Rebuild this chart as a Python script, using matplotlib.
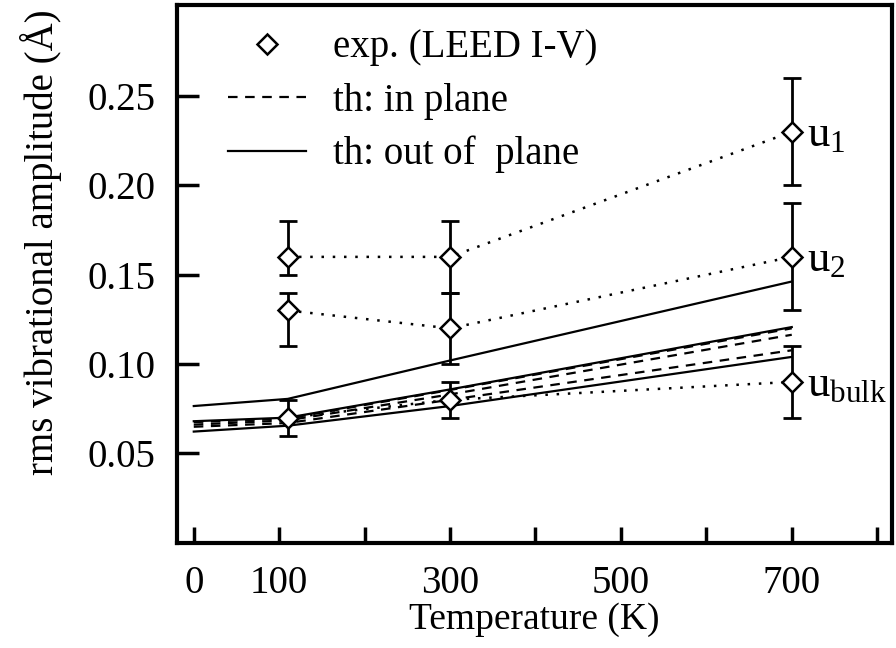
import matplotlib
matplotlib.use("Agg")
import matplotlib.pyplot as plt
from matplotlib.lines import Line2D

plt.rcParams['font.family'] = ['Liberation Serif', 'DejaVu Serif']
plt.rcParams['mathtext.fontset'] = 'custom'
plt.rcParams['mathtext.rm'] = 'Liberation Serif'
plt.rcParams['mathtext.it'] = 'Liberation Serif:italic'

# ---- data ----
T_exp = [110, 300, 700]
u1 = [0.16, 0.16, 0.23]
u1_lo = [0.01, 0.02, 0.03]
u1_hi = [0.02, 0.02, 0.03]
u2 = [0.13, 0.12, 0.16]
u2_lo = [0.02, 0.02, 0.03]
u2_hi = [0.01, 0.02, 0.03]
ub = [0.07, 0.08, 0.09]
ub_lo = [0.01, 0.01, 0.02]
ub_hi = [0.01, 0.01, 0.02]

T_th = [0, 110, 300, 700]
out_1 = [0.0765, 0.0805, 0.1020, 0.1462]
out_2 = [0.0680, 0.0700, 0.0858, 0.1207]
out_3 = [0.0622, 0.0655, 0.0765, 0.1040]
in_1 = [0.0675, 0.0695, 0.0855, 0.1200]
in_2 = [0.0661, 0.0685, 0.0830, 0.1164]
in_3 = [0.0649, 0.0670, 0.0800, 0.1077]

x_ticks = [0, 100, 200, 300, 400, 500, 600, 700, 800]
x_ticklabels = ['0', '100', '', '300', '', '500', '', '700', '']
y_ticks = [0.05, 0.10, 0.15, 0.20, 0.25]
y_ticklabels = ['0.05', '0.10', '0.15', '0.20', '0.25']
series_labels = [r'$\mathrm{u}_{1}$', r'$\mathrm{u}_{2}$', r'$\mathrm{u}_{\mathrm{bulk}}$']
legend_labels = ['exp. (LEED I-V)', 'th: in plane', 'th: out of  plane']

# ---- figure ----
fig = plt.figure(figsize=(8.96, 6.48), dpi=100)
ax = fig.add_axes([0.1972, 0.1625, 0.798, 0.8298])

FS = 28
dash = (0, (4.3, 3.4))
dot = (0, (1, 3.5))

for y in (out_1, out_2, out_3):
    ax.plot(T_th, y, color='black', lw=1.6, zorder=2)
for y in (in_1, in_2, in_3):
    ax.plot(T_th, y, color='black', lw=1.6, linestyle=dash, zorder=2)

for y, lo, hi in ((u1, u1_lo, u1_hi), (u2, u2_lo, u2_hi), (ub, ub_lo, ub_hi)):
    ax.plot(T_exp, y, color='black', lw=1.8, linestyle=dot, zorder=3)
    ax.errorbar(T_exp, y, yerr=[lo, hi], fmt='none', ecolor='black',
                elinewidth=2.0, capsize=6.4, capthick=2.0, zorder=4)
    ax.plot(T_exp, y, linestyle='none', marker='D', markersize=10,
            markerfacecolor='white', markeredgecolor='black',
            markeredgewidth=1.8, zorder=5)

for y, lab in zip((u1, u2, ub), series_labels):
    ax.text(T_exp[-1] + 18, y[-1] - 0.008, lab, fontsize=32,
            ha='left', va='baseline', zorder=6)

ax.set_xlim(-20, 817)
ax.set_ylim(0.0, 0.301)

ax.set_xticks(x_ticks)
ax.set_xticklabels(x_ticklabels)
ax.set_yticks(y_ticks)
ax.set_yticklabels(y_ticklabels)

ax.tick_params(axis='x', direction='in', length=11.5, width=2.5,
               labelsize=FS, pad=16, top=False)
ax.tick_params(axis='y', direction='in', length=16, width=2.5,
               labelsize=FS, pad=15, right=False)

for sp in ax.spines.values():
    sp.set_linewidth(3)

ax.set_xlabel('Temperature (K)', fontsize=27, labelpad=0.5)
ax.set_ylabel('rms vibrational amplitude (Å)', fontsize=FS)
ax.yaxis.set_label_coords(-0.160, 0.559)

handles = [
    Line2D([], [], linestyle='none', marker='D', markersize=10,
           markerfacecolor='white', markeredgecolor='black', markeredgewidth=1.8),
    Line2D([], [], color='black', lw=1.6, linestyle=dash),
    Line2D([], [], color='black', lw=1.6),
]
ax.legend(handles, legend_labels, loc='upper left',
          bbox_to_anchor=(0.0717, 0.955), frameon=False, fontsize=FS,
          handlelength=2.0, handletextpad=0.7, labelspacing=0.42,
          borderpad=0, borderaxespad=0)

fig.savefig('out.png', dpi=100)
